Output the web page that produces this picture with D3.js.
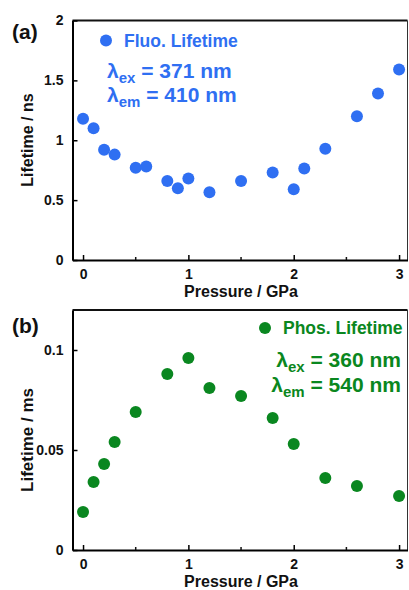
<!DOCTYPE html>
<html>
<head>
<meta charset="utf-8">
<script src="https://cdn.jsdelivr.net/npm/d3@7"></script>
<style>
	body { margin: 0; background: #fff; }
	svg { display: block; font-family: "Liberation Sans", Arial, sans-serif; font-weight: bold; }
</style>
</head>
<body>
<svg width="409" height="590"></svg>
<script>
// panel (a): fluorescence lifetime (ns)
const fluoPressure = [0, 0.1, 0.2, 0.3, 0.5, 0.6, 0.8, 0.9, 1.0, 1.2, 1.5, 1.8, 2.0, 2.1, 2.3, 2.6, 2.8, 3.0];
const fluoLifetime = [1.18, 1.10, 0.92, 0.88, 0.77, 0.78, 0.66, 0.60, 0.68, 0.565, 0.66, 0.73, 0.59, 0.765, 0.93, 1.20, 1.39, 1.59];

// panel (b): phosphorescence lifetime (ms)
const phosPressure = [0, 0.1, 0.2, 0.3, 0.5, 0.8, 1.0, 1.2, 1.5, 1.8, 2.0, 2.3, 2.6, 3.0];
const phosLifetime = [0.019, 0.034, 0.043, 0.054, 0.069, 0.088, 0.096, 0.081, 0.077, 0.066, 0.053, 0.036, 0.032, 0.027];

const xTicks = [0, 1, 2, 3],
	xMinorTicks = [0.5, 1.5, 2.5],
	fluoYTicks = [0, 0.5, 1, 1.5, 2],
	phosYTicks = [0, 0.05, 0.1];

const blue = '#2f6ff2',
	green = '#0a8720';

const svg = d3.select('svg');

function drawPanel(opt) {
	const x = d3.scaleLinear().domain([-0.1, 3.08]).range([72.5, 407.5]);
	const y = d3.scaleLinear().domain(opt.yDomain).range([opt.bottom, opt.top]);
	const g = svg.append('g');

	// frame (top and right edges)
	g.append('line').attr('x1', 72.5).attr('x2', 407.5).attr('y1', opt.top).attr('y2', opt.top)
		.attr('stroke', '#111').attr('stroke-width', 2);
	g.append('line').attr('x1', 407.5).attr('x2', 407.5).attr('y1', opt.top).attr('y2', opt.bottom)
		.attr('stroke', '#333').attr('stroke-width', 1);

	let xAxis = g.append('g').attr('transform', `translate(0,${opt.bottom})`)
		.call(d3.axisBottom(x).tickValues(xTicks).tickSizeInner(-5).tickSizeOuter(0).tickPadding(9).tickFormat(d3.format('d')));
	xAxis.select('.domain').attr('stroke-width', 2);
	xAxis.selectAll('.tick line').attr('stroke-width', 1.5);
	xAxis.selectAll('text').attr('font-size', 14).attr('font-family', null).attr('font-weight', 'bold').attr('fill', '#111');
	g.append('g').attr('transform', `translate(0,${opt.bottom})`)
		.selectAll('line').data(xMinorTicks).enter().append('line')
		.attr('x1', d => x(d)).attr('x2', d => x(d)).attr('y1', 0).attr('y2', -3)
		.attr('stroke', '#111').attr('stroke-width', 1.5);

	let yAxis = g.append('g').attr('transform', 'translate(72.5,0)')
		.call(d3.axisLeft(y).tickValues(opt.yTicks).tickSizeInner(-5).tickSizeOuter(0).tickPadding(9).tickFormat(d => String(d)));
	yAxis.select('.domain').attr('stroke-width', 2);
	yAxis.selectAll('.tick line').attr('stroke-width', 1.5);
	yAxis.selectAll('text').attr('font-size', 14).attr('font-family', null).attr('font-weight', 'bold').attr('fill', '#111');

	g.append('text').attr('x', 241).attr('y', opt.bottom + 37).attr('text-anchor', 'middle')
		.attr('font-size', 16).attr('fill', '#111').text('Pressure / GPa');
	g.append('text').attr('transform', `translate(33,${opt.titleY}) rotate(-90)`).attr('text-anchor', 'middle')
		.attr('font-size', opt.titleSize).attr('fill', '#111').text(opt.yTitle);
	g.append('text').attr('x', 12).attr('y', opt.top + opt.labelDy).attr('font-size', 21).attr('fill', '#111').text(opt.label);

	g.append('g').selectAll('circle')
		.data(opt.px.map((p, i) => ({p: p, v: opt.py[i]})))
		.enter().append('circle')
		.attr('cx', d => x(d.p)).attr('cy', d => y(d.v)).attr('r', 6)
		.attr('fill', opt.color);

	// legend
	g.append('circle').attr('cx', opt.legX).attr('cy', opt.top + opt.legDy).attr('r', 6).attr('fill', opt.color);
	g.append('text').attr('x', opt.legX + 18).attr('y', opt.top + opt.legDy + 6).attr('font-size', 17.5)
		.attr('fill', opt.color).text(opt.legend);

	opt.lambdas.forEach((l, i) => {
		let t = g.append('text').attr('x', opt.lamX).attr('y', opt.top + opt.lamDy + i * 24.5)
			.attr('font-size', 21).attr('fill', opt.color).attr('text-anchor', opt.lamAnchor);
		t.append('tspan').text('λ');
		t.append('tspan').attr('font-size', 15).attr('dy', 5).text(l[0]);
		t.append('tspan').attr('dy', -5).text(' = ' + l[1]);
	});
}

drawPanel({
	top: 20.5, bottom: 260, yDomain: [0, 2], yTicks: fluoYTicks,
	px: fluoPressure, py: fluoLifetime, color: blue,
	yTitle: 'Lifetime / ns', titleY: 140, titleSize: 16, label: '(a)', labelDy: 18,
	legend: 'Fluo. Lifetime', legX: 106, legDy: 20,
	lambdas: [['ex', '371 nm'], ['em', '410 nm']], lamX: 107, lamDy: 57, lamAnchor: 'start'
});

drawPanel({
	top: 310, bottom: 550, yDomain: [0, 0.12], yTicks: phosYTicks,
	px: phosPressure, py: phosLifetime, color: green,
	yTitle: 'Lifetime / ms', titleY: 440, titleSize: 17, label: '(b)', labelDy: 23,
	legend: 'Phos. Lifetime', legX: 265, legDy: 18,
	lambdas: [['ex', '360 nm'], ['em', '540 nm']], lamX: 401, lamDy: 57, lamAnchor: 'end'
});
</script>
</body>
</html>
